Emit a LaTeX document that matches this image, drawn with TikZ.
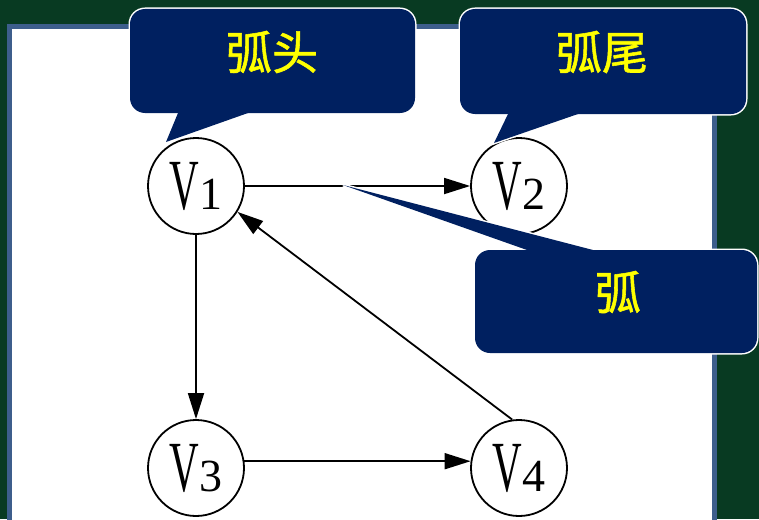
\documentclass[tikz,border=0pt]{standalone}
\usepackage{fontspec}
\setmainfont{Liberation Serif}
\newfontfamily\cjk[FakeBold=1.2]{Noto Sans CJK SC}
\usetikzlibrary{arrows.meta}

\definecolor{boardgreen}{RGB}{8,58,34}
\definecolor{panelframe}{RGB}{61,94,140}
\definecolor{tipnavy}{RGB}{0,32,96}
\definecolor{tipyellow}{RGB}{255,255,0}

% narrow V with a smaller digit
\newcommand{\vlab}[1]{{\fontsize{72}{72}\selectfont\scalebox{0.57}[1]{V}}{\fontsize{46}{46}\selectfont #1}}

\begin{document}
\begin{tikzpicture}[x=1pt,y=-1pt,
  vertex/.style={circle,draw,line width=1.8pt,minimum size=96pt,inner sep=0pt,fill=white},
  arcline/.style={line width=1.8pt,-{Triangle[length=26pt,width=16pt]}},
  tipline/.style={draw=white,line width=3pt},
  tipfill/.style={fill=tipnavy},
  tiptext/.style={text=tipyellow,font=\cjk\fontsize{46}{46}\selectfont}]
\useasboundingbox (0,0) rectangle (759,519);
\clip (0,0) rectangle (759,519);

% board and panel
\fill[boardgreen] (0,0) rectangle (759,519);
\draw[panelframe,line width=5pt,fill=white] (9.5,26.5) rectangle (714,540);

% vertices
\node[vertex] (V1) at (196,186) {\vlab{1}};
\node[vertex] (V2) at (519,186) {\vlab{2}};
\node[vertex] (V3) at (196,468) {\vlab{3}};
\node[vertex] (V4) at (519,468) {\vlab{4}};

% arcs
\draw[arcline] (V1) -- (V2);
\draw[arcline] (V1) -- (V3);
\draw[arcline] (V3.8) -- (V4.172);
\draw[arcline] (V4.98) -- (V1.-32);

% callout corners and tails
\coordinate (H1) at (130,9);
\coordinate (H2) at (415,113);
\coordinate (Ha) at (178,113);
\coordinate (Hb) at (248,113);
\coordinate (Ht) at (166,142);
\coordinate (T1) at (460,9);
\coordinate (T2) at (746,114);
\coordinate (Ta) at (508,114);
\coordinate (Tb) at (578,114);
\coordinate (Tt) at (494,143);
\coordinate (A1) at (475,250);
\coordinate (A2) at (757,353);
\coordinate (Aa) at (527,250);
\coordinate (Ab) at (593,250);
\coordinate (At) at (343,185);

% white rims first, then the navy bodies
\draw[tipline,rounded corners=15pt] (H1) rectangle (H2);
\draw[tipline] (Ha) -- (Ht) -- (Hb) -- cycle;
\fill[tipfill,rounded corners=15pt] (H1) rectangle (H2);
\fill[tipfill] (Ha) -- (Ht) -- (Hb) -- cycle;

\draw[tipline,rounded corners=15pt] (T1) rectangle (T2);
\draw[tipline] (Ta) -- (Tt) -- (Tb) -- cycle;
\fill[tipfill,rounded corners=15pt] (T1) rectangle (T2);
\fill[tipfill] (Ta) -- (Tt) -- (Tb) -- cycle;

\draw[tipline,rounded corners=15pt] (A1) rectangle (A2);
\draw[tipline] (Aa) -- (At) -- (Ab) -- cycle;
\fill[tipfill,rounded corners=15pt] (A1) rectangle (A2);
\fill[tipfill] (Aa) -- (At) -- (Ab) -- cycle;

% callout texts
\node[tiptext] (head) at (272,52) {弧头};
\node[tiptext] (tail) at (602,52) {弧尾};
\node[tiptext] (arc) at (618,292) {弧};
\end{tikzpicture}
\end{document}
